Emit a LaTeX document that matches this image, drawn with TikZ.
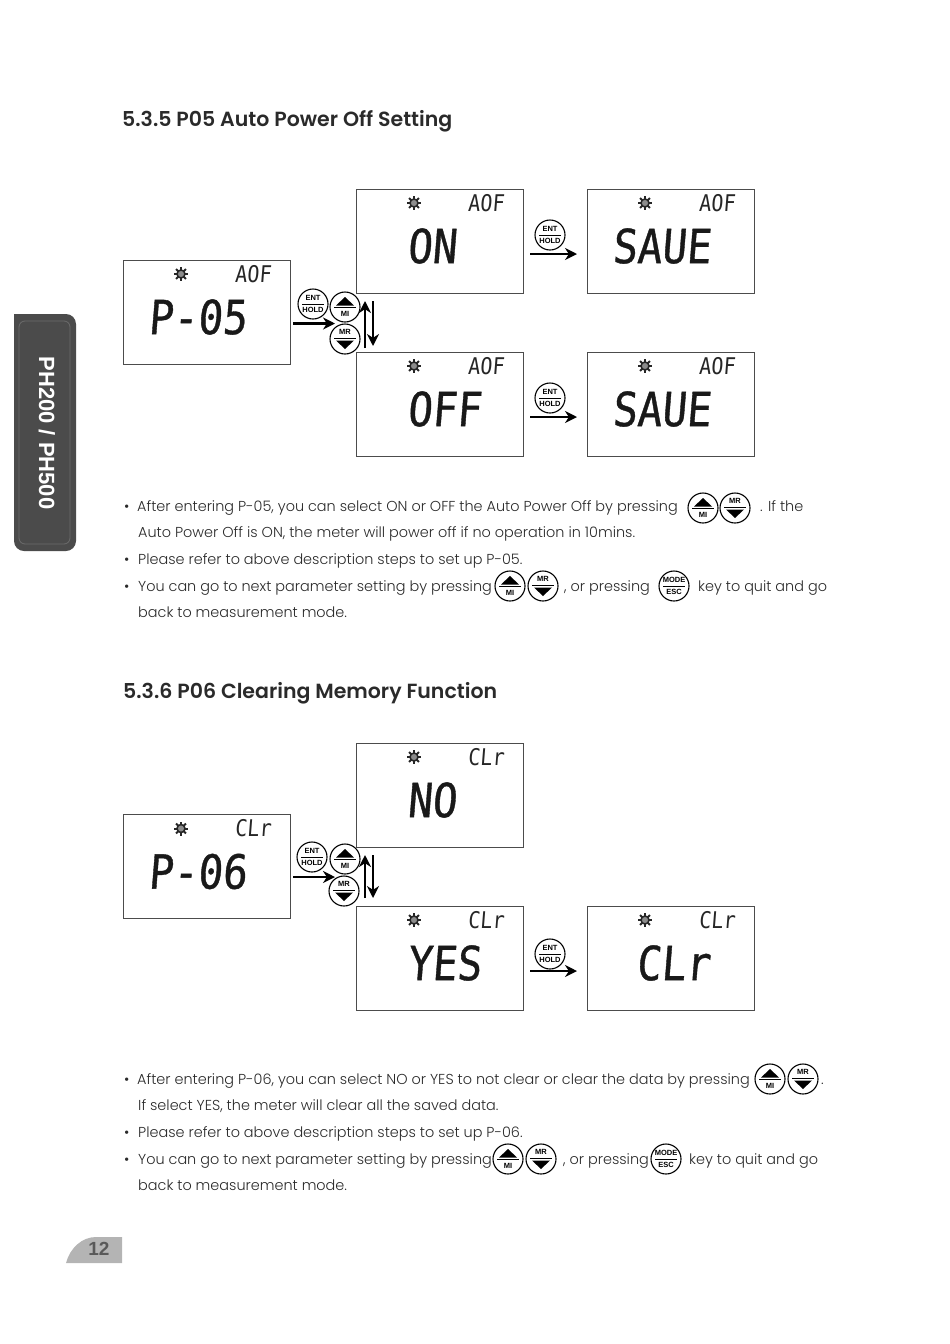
\documentclass[tikz,border=0pt]{standalone}
\usepackage{fontspec}
\setmainfont[BoldFont={Poppins SemiBold}]{Poppins Light}
\newfontfamily\lcdfont[FakeSlant=0.08,FakeStretch=0.87]{DejaVu Sans Mono}
\newfontfamily\lcdfontbig[FakeSlant=0.08,FakeStretch=0.87,FakeBold=0.8]{DejaVu Sans Mono}
\newfontfamily\keyfont{Liberation Sans}
\usetikzlibrary{arrows.meta, positioning, calc}
\definecolor{tabgray}{HTML}{4B4B4B}
\definecolor{pagegray}{HTML}{B4B4B4}
\definecolor{inktxt}{HTML}{2A2A2A}
\newcommand{\lcdgear}[2]{%
  \node[gearcore] (#1) at (#2) {};
  \foreach \a in {0,45,...,315} {\draw[gearspoke] ([shift={(\a:3.5)}]#1.center) -- ([shift={(\a:7)}]#1.center);}
}
\newcommand{\lcdpanel}[5]{%
  \node[lcd] (#1) at (#2) {};
  \lcdgear{#1g}{[shift={(58,14)}]#1.north west}
  \node[lcdtop] (#1t) at ([shift={(130,14)}]#1.north west) {#3};
  \node[lcdbig] (#1v) at ([shift={(#4,57)}]#1.north west) {#5};
}
\newcommand{\keytwo}[4]{%
  \node[keybtn] (#1) at (#2) {};
  \draw[keyrule] ([xshift=-11pt]#1.center) -- ([xshift=11pt]#1.center);
  \node[keytxt] (#1a) at ([yshift=6pt]#1.center) {#3};
  \node[keytxt] (#1b) at ([yshift=-6pt]#1.center) {#4};
}
\newcommand{\keyup}[2]{%
  \node[keybtn] (#1) at (#2) {};
  \fill ([shift={(-9,-1.5)}]#1.center) -- ([shift={(9,-1.5)}]#1.center) -- ([shift={(0,-10)}]#1.center) -- cycle;
  \draw[keyrule] ([shift={(-11,0.5)}]#1.center) -- ([shift={(11,0.5)}]#1.center);
  \node[keytxt] (#1a) at ([yshift=-7pt]#1.center) {MI};
}
\newcommand{\keydown}[2]{%
  \node[keybtn] (#1) at (#2) {};
  \fill ([shift={(-9,1.5)}]#1.center) -- ([shift={(9,1.5)}]#1.center) -- ([shift={(0,10)}]#1.center) -- cycle;
  \draw[keyrule] ([shift={(-11,-0.5)}]#1.center) -- ([shift={(11,-0.5)}]#1.center);
  \node[keytxt] (#1a) at ([yshift=7pt]#1.center) {MR};
}
\begin{document}
\begin{tikzpicture}[
    x=1pt, y=-1pt,
    >={Stealth[length=12pt,width=12pt]},
    lcd/.style={rectangle, draw=black!70, line width=1pt, anchor=north west, minimum width=167pt, minimum height=104pt, inner sep=0pt, outer sep=0pt},
    lcdtop/.style={font=\lcdfont\fontsize{23}{23}\selectfont, inner sep=0pt, text=black!85},
    lcdbig/.style={font=\lcdfontbig\fontsize{47}{47}\selectfont, anchor=west, inner sep=0pt, text=black!90},
    gearcore/.style={circle, draw=black!85, line width=1.6pt, fill=black!45, minimum size=8pt, inner sep=0pt},
    gearspoke/.style={draw=black!85, line width=2pt},
    keybtn/.style={circle, draw=black, line width=1.1pt, fill=white, minimum size=30pt, inner sep=0pt, outer sep=0pt},
    keyrule/.style={draw=black, line width=.6pt},
    keytxt/.style={font=\keyfont\bfseries\fontsize{7.5}{8}\selectfont, inner sep=0pt},
    flow/.style={->, draw=black, line width=2.4pt},
    ttl/.style={font=\bfseries\fontsize{20.5}{24}\selectfont, anchor=base west, inner sep=0pt, text=inktxt},
    body/.style={font=\fontsize{14.42}{18}\selectfont, anchor=base west, inner sep=0pt, text=inktxt},
  ]
  \useasboundingbox (0,0) rectangle (950,1344);
  % ------------------------------------------------------------------ side tab and page number
  \fill[tabgray, rounded corners=10pt] (14,314) -- (76,314) -- (76,551) -- (14,551) [sharp corners] -- cycle;
  \draw[black!58, rounded corners=6pt, line width=.8pt] (19,321) -- (70,321) -- (70,544) -- (19,544) -- cycle;
  \node[font=\keyfont\bfseries\fontsize{22}{24}\selectfont, text=white, rotate=-90, inner sep=0pt] (tab) at (47,433) {PH200 / PH500};
  \fill[pagegray] (66,1263) .. controls (70,1248) and (82,1237) .. (96,1237) -- (122,1237) -- (122,1263) -- cycle;
  \node[font=\keyfont\bfseries\fontsize{19}{22}\selectfont, text=black!65, inner sep=0pt] (pageno) at (99,1249) {12};
  % ------------------------------------------------------------------ 5.3.5
  \node[ttl] (h1) at (122,126) {5.3.5 P05 Auto Power Off Setting};
  \lcdpanel{p05}{123,260}{AOF}{25}{P-05}
  \lcdpanel{on}{356,189}{AOF}{51}{ON}
  \lcdpanel{sa}{587,189}{AOF}{25}{SAUE}
  \lcdpanel{off}{356,352}{AOF}{51}{OFF}
  \lcdpanel{sb}{587,352}{AOF}{25}{SAUE}
  \keytwo{ka}{313,304}{ENT}{HOLD}
  \keyup{kb}{345,307}
  \keydown{kc}{345,339}
  \keytwo{kd}{550,235}{ENT}{HOLD}
  \keytwo{ke}{550,398}{ENT}{HOLD}
  \draw[flow] ([shift={(3,11.5)}]p05.east) -- ([shift={(-10,-15.5)}]kc.center);
  \draw[flow] ([shift={(9,-4)}]off.north west) -- ([shift={(9,8)}]on.south west);
  \draw[flow] ([shift={(17,-51)}]off.north west) -- ([shift={(17,-6)}]off.north west);
  \draw[flow] ([shift={(7,13)}]on.east) -- ([shift={(-10,13)}]sa.west);
  \draw[flow] ([shift={(7,13)}]off.east) -- ([shift={(-10,13)}]sb.west);
  \node[body] (b1) at (124,511) {•};
  \node[body] (t1) at (137,511) {After entering P-05, you can select ON or OFF the Auto Power Off by pressing};
  \keyup{kf}{703,508}
  \keydown{kg}{735,508}
  \node[body] (t1b) at (760,511) {. If the};
  \node[body] (t2) at (138,537) {Auto Power Off is ON, the meter will power off if no operation in 10mins.};
  \node[body] (b2) at (124,564) {•};
  \node[body] (t3) at (138,564) {Please refer to above description steps to set up P-05.};
  \node[body] (b3) at (124,591) {•};
  \node[body] (t4) at (138,591) {You can go to next parameter setting by pressing};
  \keyup{kh}{510,586}
  \keydown{ki}{543,586}
  \node[body] (t4b) at (564,591) {, or pressing};
  \keytwo{kj}{674,586}{MODE}{ESC}
  \node[body] (t4c) at (698,591) {key to quit and go};
  \node[body] (t5) at (138,617) {back to measurement mode.};
  % ------------------------------------------------------------------ 5.3.6
  \node[ttl] (h2) at (123,698) {5.3.6 P06 Clearing Memory Function};
  \lcdpanel{p06}{123,814.5}{CLr}{25}{P-06}
  \lcdpanel{no}{356,743}{CLr}{51}{NO}
  \lcdpanel{yes}{356,906}{CLr}{51}{YES}
  \lcdpanel{cl}{587,906}{CLr}{49}{CLr}
  \keytwo{la}{312,857}{ENT}{HOLD}
  \keyup{lb}{345,859}
  \keydown{lc}{344,891}
  \keytwo{ld}{550,954}{ENT}{HOLD}
  \draw[flow] ([shift={(3,10.5)}]p06.east) -- ([shift={(-9,-14)}]lc.center);
  \draw[flow] ([shift={(9,-8)}]yes.north west) -- ([shift={(9,8)}]no.south west);
  \draw[flow] ([shift={(17,-51)}]yes.north west) -- ([shift={(17,-8)}]yes.north west);
  \draw[flow] ([shift={(7,13)}]yes.east) -- ([shift={(-10,13)}]cl.west);
  \node[body] (b4) at (124,1084) {•};
  \node[body] (t6) at (137,1084) {After entering P-06, you can select NO or YES to not clear or clear the data by pressing};
  \keyup{lf}{770,1079}
  \keydown{lg}{803,1079}
  \node[body] (t6b) at (821,1084) {.};
  \node[body] (t7) at (138,1110) {If select YES, the meter will clear all the saved data.};
  \node[body] (b5) at (124,1137) {•};
  \node[body] (t8) at (138,1137) {Please refer to above description steps to set up P-06.};
  \node[body] (b6) at (124,1164) {•};
  \node[body] (t9) at (138,1164) {You can go to next parameter setting by pressing};
  \keyup{lh}{508,1159}
  \keydown{li}{541,1159}
  \node[body] (t9b) at (563,1164) {, or pressing};
  \keytwo{lj}{666,1159}{MODE}{ESC}
  \node[body] (t9c) at (689,1164) {key to quit and go};
  \node[body] (t10) at (138,1190) {back to measurement mode.};
\end{tikzpicture}
\end{document}
